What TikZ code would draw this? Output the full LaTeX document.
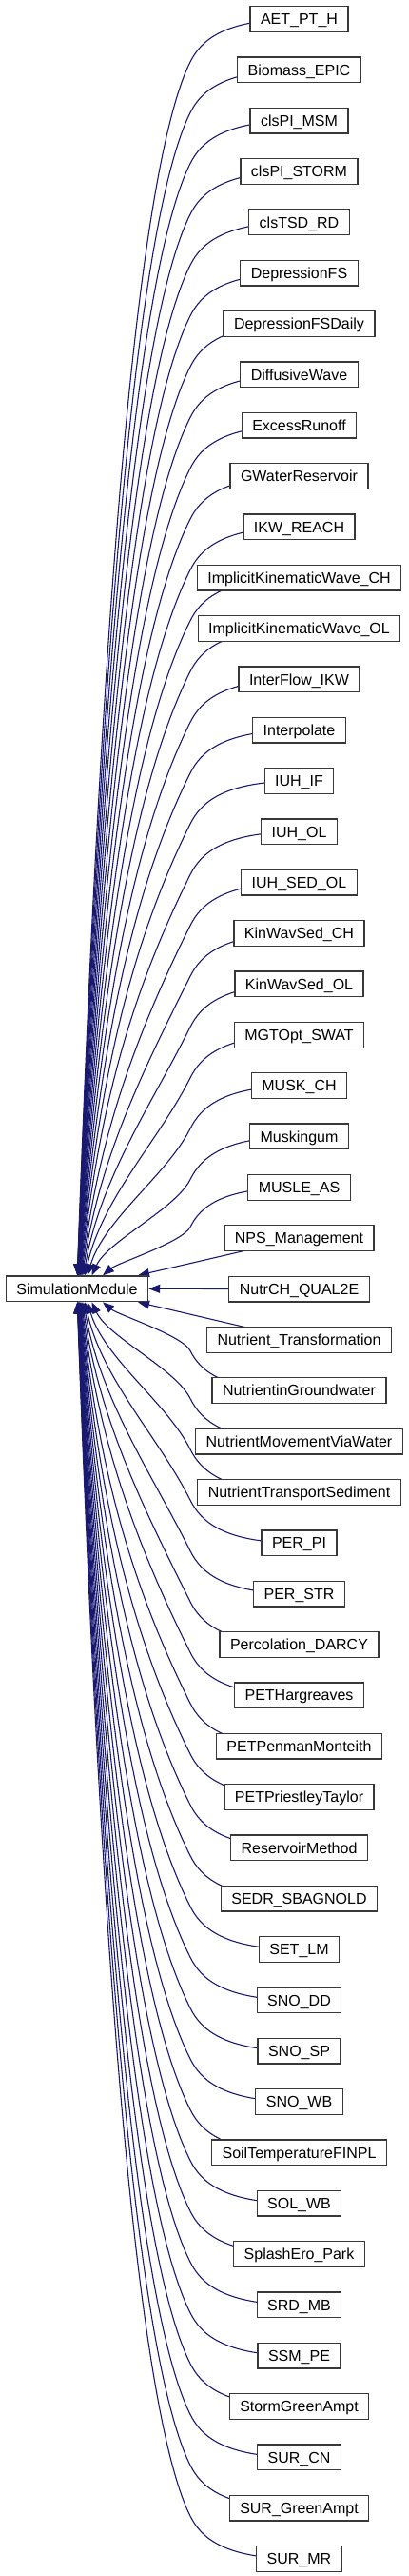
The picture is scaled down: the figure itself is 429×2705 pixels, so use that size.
\documentclass[tikz,border=0pt]{standalone}
\usepackage{fontspec}
\setmainfont{Liberation Sans}
\usetikzlibrary{arrows.meta,calc,backgrounds}
\definecolor{edgec}{HTML}{191970}
\tikzset{
  cls/.style={draw=black!78, line width=1.3pt, fill=white, minimum height=26.7pt,
    inner xsep=11pt, inner ysep=0pt, text height=11.5pt, text depth=0pt,
    font=\fontsize{16pt}{19pt}\selectfont},
  edge/.style={draw=edgec, line width=1.1pt, -{Triangle[length=12pt,width=9pt]}}
}
\begin{document}
\begin{tikzpicture}[x=1pt,y=1pt]
\useasboundingbox (0,0) rectangle (429,-2705);
\node[cls] (sm) at (81,-1353.3) {SimulationModule};
\foreach \nm [count=\i from 0] in {AET\_PT\_H, Biomass\_EPIC, clsPI\_MSM, clsPI\_STORM, clsTSD\_RD, DepressionFS, DepressionFSDaily, DiffusiveWave, ExcessRunoff, GWaterReservoir, IKW\_REACH, ImplicitKinematicWave\_CH, ImplicitKinematicWave\_OL, InterFlow\_IKW, Interpolate, IUH\_IF, IUH\_OL, IUH\_SED\_OL, KinWavSed\_CH, KinWavSed\_OL, MGTOpt\_SWAT, MUSK\_CH, Muskingum, MUSLE\_AS, NPS\_Management, NutrCH\_QUAL2E, Nutrient\_Transformation, NutrientinGroundwater, NutrientMovementViaWater, NutrientTransportSediment, PER\_PI, PER\_STR, Percolation\_DARCY, PETHargreaves, PETPenmanMonteith, PETPriestleyTaylor, ReservoirMethod, SEDR\_SBAGNOLD, SET\_LM, SNO\_DD, SNO\_SP, SNO\_WB, SoilTemperatureFINPL, SOL\_WB, SplashEro\_Park, SRD\_MB, SSM\_PE, StormGreenAmpt, SUR\_CN, SUR\_GreenAmpt, SUR\_MR}
{
  \node[cls] (n\i) at (314.5,{-(20+53.34*\i)}) {\nm};
}
\begin{scope}[on background layer]
\foreach \i in {0,...,50} {
  \pgfmathtruncatemacro\ed{abs(\i-25)}
  \pgfmathsetmacro\es{ifthenelse(\i<25,-1,1)}
  \pgfmathsetmacro\eyc{-(20+53.34*\i)}
  \pgfmathsetmacro\eyT{ifthenelse(\i<25,-1339.3,-1367.3)}
  \ifnum\i<25 \def\anc{north}\else\def\anc{south}\fi
  \ifnum\ed=0
    \draw[edge] (n\i.west) -- (sm.east);
  \else\ifnum\ed=1
    \draw[edge] (n\i.center) -- ($(sm.\anc)+(64,0)$);
  \else
    \pgfmathsetmacro\exT{78+30/((\ed-1)^0.7)}
    \pgfmathsetmacro\eD{abs(\eyT-\eyc)}
    \pgfmathsetmacro\ebh{min(45,0.45*\eD)}
    \pgfmathsetmacro\eKy{\eyc+(\es)*\ebh}
    \pgfmathsetmacro\eKb{\eKy-(\es)*22.4}
    \pgfmathsetmacro\eDD{abs(\eyT-\eKy)}
    \pgfmathsetmacro\ea{min(150,0.35*\eDD)}
    \pgfmathsetmacro\eL{0.4*\eDD}
    \pgfmathsetmacro\eph{50/(\ed-1)}
    \pgfmathsetmacro\ecax{200-0.447*\ea}
    \pgfmathsetmacro\ecay{\eKy+(\es)*0.894*\ea}
    \pgfmathsetmacro\ecbx{\exT+\eL*sin(\eph)}
    \pgfmathsetmacro\ecby{\eyT-(\es)*\eL*cos(\eph)}
    \pgfmathsetmacro\eoff{\exT-81}
    \draw[edge] (n\i.center) .. controls +(-79.5,0) and (211.2,\eKb) .. (200,\eKy)
      .. controls (\ecax,\ecay) and (\ecbx,\ecby) .. ($(sm.\anc)+(\eoff,0)$);
  \fi\fi
}
\end{scope}
\end{tikzpicture}
\end{document}
